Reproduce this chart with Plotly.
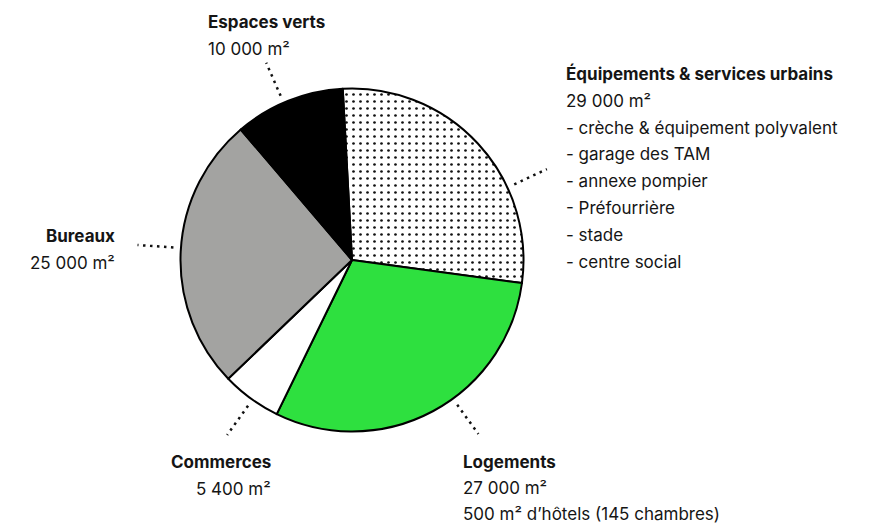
import math
import plotly.graph_objects as go

# ---- data ----
categories = ["Équipements & services urbains", "Logements", "Commerces", "Bureaux", "Espaces verts"]
# slice sizes as drawn in the picture (clockwise from the top)
slice_values = [27000, 29000, 5400, 25000, 10000]
slice_colors = ["#ffffff", "#2ee03f", "#ffffff", "#a3a3a1", "#000000"]
slice_patterns = [".", "", "", "", ""]

label_titles = ["Équipements & services urbains", "Logements", "Commerces", "Bureaux", "Espaces verts"]
label_lines = [
    ["29 000 m²", "- crèche & équipement polyvalent", "- garage des TAM", "- annexe pompier",
     "- Préfourrière", "- stade", "- centre social"],
    ["27 000 m²", "500 m² d’hôtels (145 chambres)"],
    ["5 400 m²"],
    ["25 000 m²"],
    ["10 000 m²"],
]

# ---- layout parameters ----
W, H = 869, 524
CX, CY, R = 352, 260, 171.5
ROTATION = -3.1
FONT = "Inter"
TXT = "#151515"
FS = 17

# label anchor (x px, first-line y px, line height, alignment) and leader angle (deg clockwise from top)
label_pos = [
    (564, 74, 26.8, "left", 65.0),
    (461, 462, 26.0, "left", 144.0),
    (273, 462, 26.8, "right", 215.5),
    (117, 236, 26.8, "right", 274.0),
    (206, 22, 26.8, "left", 336.5),
]
LEAD_R0, LEAD_R1 = 179, 215

fig = go.Figure()
fig.add_trace(go.Pie(
    labels=categories,
    values=slice_values,
    sort=False,
    direction="clockwise",
    rotation=ROTATION,
    textinfo="none",
    hoverinfo="skip",
    showlegend=False,
    marker=dict(
        colors=slice_colors,
        line=dict(color="#000000", width=2),
        pattern=dict(shape=slice_patterns, fgcolor="#111111", size=7, solidity=0.12, fillmode="replace"),
    ),
    domain=dict(x=[(CX - R) / W, (CX + R) / W], y=[1 - (CY + R) / H, 1 - (CY - R) / H]),
))

annotations = []
shapes = []
for title, lines, (lx, ly, lh, align, ang) in zip(label_titles, label_lines, label_pos):
    allines = [(title, True)] + [(t, False) for t in lines]
    for i, (t, bold) in enumerate(allines):
        annotations.append(dict(
            text=f"<b>{t}</b>" if bold else t,
            x=lx / W, y=1 - (ly + i * lh) / H,
            xref="paper", yref="paper",
            xanchor=align, yanchor="middle", showarrow=False,
            font=dict(family=FONT, size=FS, color=TXT),
        ))
    a = math.radians(ang)
    x0 = CX + LEAD_R0 * math.sin(a)
    y0 = CY - LEAD_R0 * math.cos(a)
    x1 = CX + LEAD_R1 * math.sin(a)
    y1 = CY - LEAD_R1 * math.cos(a)
    shapes.append(dict(
        type="line", xref="paper", yref="paper",
        x0=x0 / W, y0=1 - y0 / H, x1=x1 / W, y1=1 - y1 / H,
        line=dict(color="#111111", width=2.5, dash="2.5px,4.5px"),
    ))

fig.update_layout(
    width=W, height=H,
    margin=dict(l=0, r=0, t=0, b=0),
    paper_bgcolor="#ffffff",
    plot_bgcolor="#ffffff",
    annotations=annotations,
    shapes=shapes,
)

fig.write_html(
    "out.html",
    config={"displayModeBar": False},
    post_script="document.body.style.margin='0';document.body.style.overflow='hidden';",
)
